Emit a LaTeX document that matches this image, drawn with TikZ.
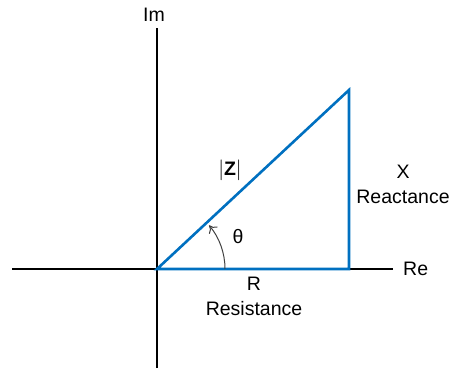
\documentclass[tikz,border=0pt]{standalone}
\usepackage{fontspec}
\setmainfont{Liberation Sans}
\definecolor{PhasorBlue}{RGB}{0,112,192}
\definecolor{ArcGray}{RGB}{64,64,64}
\usetikzlibrary{arrows.meta, positioning, calc}

\begin{document}
\begin{tikzpicture}[x=1pt, y=1pt,
    axisline/.style={line width=1.6pt, black},
    phasor/.style={line width=2.6pt, PhasorBlue},
    lbl/.style={font=\fontsize{19.5}{25}\selectfont, inner sep=0pt, align=center}]
  \useasboundingbox (0,0) rectangle (450,370);
  % axes
  \coordinate (O) at (157,101);
  \coordinate (ImTop) at (157,342);
  \coordinate (ImBot) at (157,2);
  \coordinate (ReLeft) at (12,101);
  \coordinate (ReRight) at (393,101);
  \draw[axisline] (ImBot) -- (ImTop);
  \draw[axisline] (ReLeft) -- (ReRight);
  \node[lbl] (im) at (154,355) {Im};
  \node[lbl, anchor=west] (re) at (403,101) {Re};
  % impedance triangle
  \coordinate (Rend) at (349,101);
  \coordinate (Ztip) at (349,280);
  \draw[phasor, line join=miter] (O) -- (Rend) -- (Ztip) -- cycle;
  \node[lbl] (zmag) at (230,200) {$|$\textbf{Z}$|$};
  \node[lbl] (xlab) at (403,185.5) {X\\Reactance};
  \node[lbl] (rlab) at (254,74) {R\\Resistance};
  % angle
  \draw[ArcGray, line width=1pt, -{To[length=7pt, width=11pt]}] ($(O)+(0:68)$) arc[start angle=0, end angle=40, radius=68];
  \node[lbl] (theta) at (238,133) {θ};
\end{tikzpicture}
\end{document}
